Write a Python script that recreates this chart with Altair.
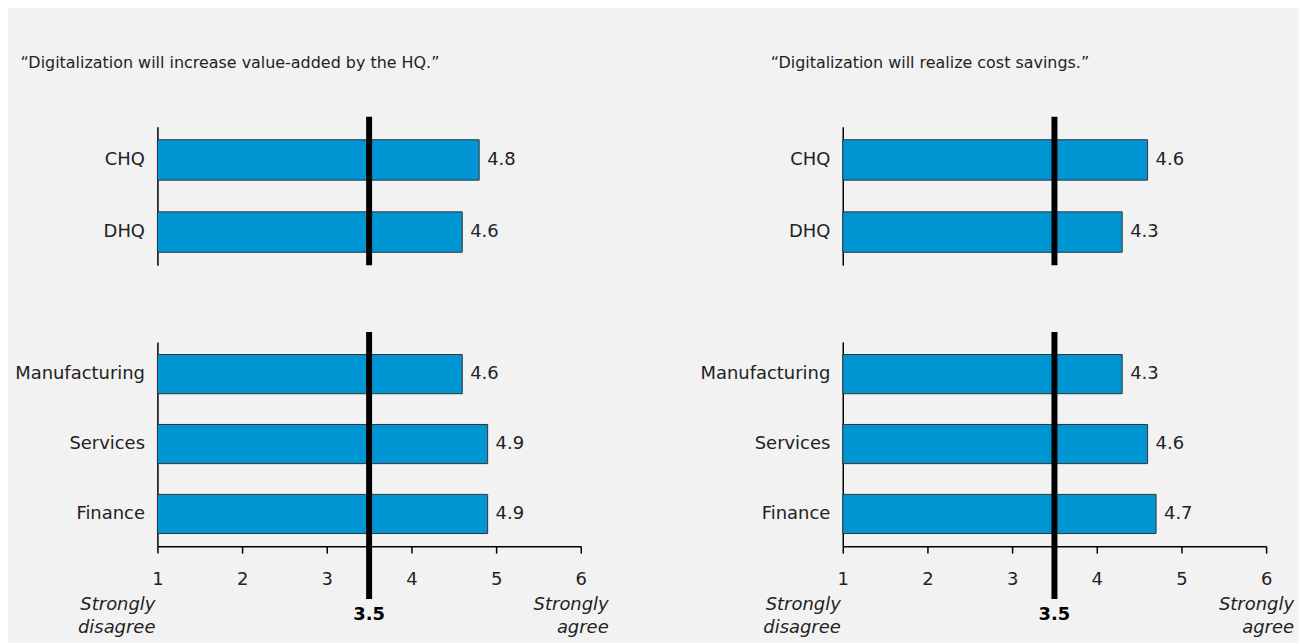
import altair as alt
import pandas as pd

# ---- data ----
top_cats = ["CHQ", "DHQ"]
bottom_cats = ["Manufacturing", "Services", "Finance"]
left_top_vals = [4.8, 4.6]
left_bottom_vals = [4.6, 4.9, 4.9]
right_top_vals = [4.6, 4.3]
right_bottom_vals = [4.3, 4.6, 4.7]
panel_titles = [
    "\u201cDigitalization will increase value-added by the HQ.\u201d",
    "\u201cDigitalization will realize cost savings.\u201d",
]
ref_value = 3.5
x_ticks = [1, 2, 3, 4, 5, 6]
scale_min, scale_max = 1, 6
low_label = "Strongly\ndisagree"
high_label = "Strongly\nagree"

FONT = "DejaVu Sans"
BAR = "#0096d3"
W = 425
H_TOP = 139
H_BOT = 205
LABEL_SIZE = 18


def bar_layers(cats, vals, height, show_x):
    df = pd.DataFrame({"cat": cats, "value": vals, "lo": [scale_min] * len(cats)})
    xscale = alt.Scale(domain=[scale_min, scale_max], zero=False, nice=False)
    if show_x:
        xaxis = alt.Axis(values=x_ticks, format="d", title=None, grid=False,
                         domainColor="black", tickColor="black", tickSize=7,
                         labelPadding=18, labelFlush=False,
                         labelFontSize=LABEL_SIZE, labelFont=FONT,
                         labelColor="#222", domainWidth=1.5, tickWidth=1.5)
    else:
        xaxis = None
    yscale = alt.Scale(domain=cats, paddingInner=0.44, paddingOuter=0.18)
    yaxis = alt.Axis(title=None, ticks=False, domainColor="black", domainWidth=1.5,
                     labelPadding=13, labelFontSize=LABEL_SIZE, labelFont=FONT,
                     labelColor="#222")
    base = alt.Chart(df)
    bars = base.mark_bar(color=BAR, stroke="#333333", strokeWidth=1).encode(
        x=alt.X("lo:Q", scale=xscale, axis=xaxis),
        x2="value:Q",
        y=alt.Y("cat:N", scale=yscale, axis=yaxis, sort=cats),
    )
    labels = base.mark_text(align="left", baseline="middle", dx=8, font=FONT,
                            fontSize=LABEL_SIZE, color="#222").encode(
        x="value:Q",
        y=alt.Y("cat:N", sort=cats),
        text=alt.Text("value:Q", format=".1f"),
    )
    y_end = height + (53 if show_x else 0)
    rule = alt.Chart(pd.DataFrame({"ref": [ref_value]})).mark_rule(
        color="black", strokeWidth=6).encode(
        x="ref:Q", y=alt.value(-10), y2=alt.value(y_end))
    layers = [bars, labels, rule]
    if show_x:
        ann = pd.DataFrame({"x": [scale_min, scale_max], "t": [low_label, high_label]})
        low = alt.Chart(ann.iloc[[0]]).mark_text(
            align="right", baseline="top", dx=-2, font=FONT, fontSize=LABEL_SIZE,
            fontStyle="italic", lineBreak="\n", lineHeight=23, color="#222").encode(
            x="x:Q", y=alt.value(height + 50), text="t:N")
        high = alt.Chart(ann.iloc[[1]]).mark_text(
            align="right", baseline="top", dx=28, font=FONT, fontSize=LABEL_SIZE,
            fontStyle="italic", lineBreak="\n", lineHeight=23, color="#222").encode(
            x="x:Q", y=alt.value(height + 50), text="t:N")
        refl = alt.Chart(pd.DataFrame({"x": [ref_value], "t": [f"{ref_value}"]})).mark_text(
            align="center", baseline="top", font=FONT, fontSize=18, fontWeight="bold",
            color="black").encode(
            x="x:Q", y=alt.value(height + 60), text="t:N")
        layers += [low, high, refl]
    return alt.layer(*layers).properties(width=W, height=height)


def panel(title, tv, bv, dx):
    top = bar_layers(top_cats, tv, H_TOP, False)
    bot = bar_layers(bottom_cats, bv, H_BOT, True)
    return alt.vconcat(top, bot, spacing=61).properties(
        title=alt.TitleParams(title, anchor="start", dx=dx, offset=43, font=FONT,
                              fontSize=16, fontWeight="normal", color="#222")
    )


chart = alt.hconcat(
    panel(panel_titles[0], left_top_vals, left_bottom_vals, 6),
    panel(panel_titles[1], right_top_vals, right_bottom_vals, 71),
    spacing=91,
).properties(
    background="#f2f2f2",
    padding={"left": 6, "top": 46, "right": 5, "bottom": 5},
).configure_view(stroke=None).resolve_scale(y="independent")

chart.save("out.html", embed_options={"renderer": "svg", "actions": False})
